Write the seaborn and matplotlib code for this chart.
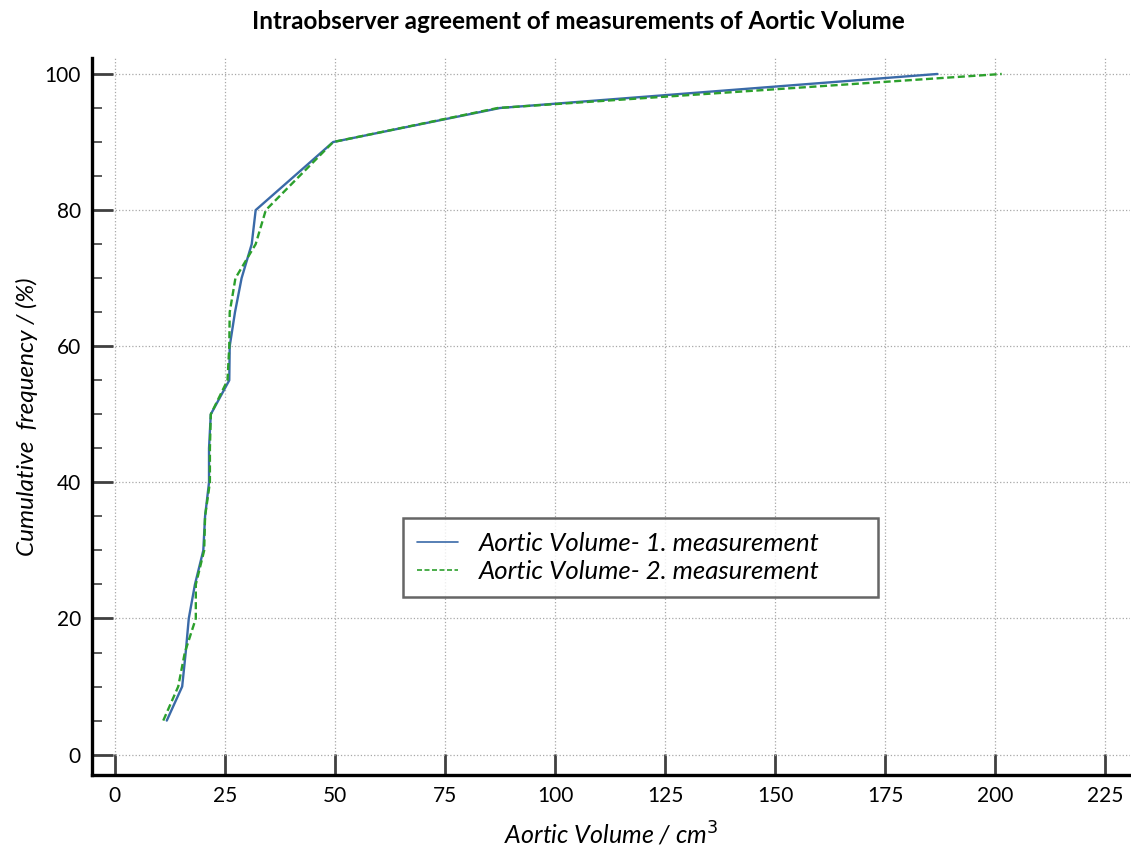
import matplotlib
matplotlib.use("Agg")
import matplotlib.pyplot as plt
from matplotlib.ticker import MultipleLocator
import numpy as np
import pandas as pd
import seaborn as sns

# Cumulative frequency (%) levels
freq = [5, 10, 15, 20, 25, 30, 35, 40, 45, 50, 55, 60, 65, 70, 75, 80, 90, 95, 100]

# Aortic volume (cm^3) at each cumulative frequency level
vol_m1 = [11.8, 15.3, 16.1, 16.8, 18.2, 20.1, 20.5, 21.4, 21.4, 21.8,
          26.0, 26.1, 27.3, 28.8, 31.1, 32.0, 49.6, 87.5, 186.9]
vol_m2 = [11.0, 14.4, 15.9, 18.4, 18.4, 20.3, 20.5, 21.6, 21.6, 21.8,
          25.6, 26.0, 26.1, 27.4, 32.0, 34.3, 49.6, 87.0, 201.5]

labels = ["Aortic Volume- 1. measurement", "Aortic Volume- 2. measurement"]
colors = ["#3a6aa8", "#2ca02c"]

sns.set_theme(style="white")
plt.rcParams["font.family"] = ["Lato", "DejaVu Sans"]
plt.rcParams["text.color"] = "black"
plt.rcParams["axes.labelcolor"] = "black"

fig = plt.figure(figsize=(11.31, 8.5), dpi=100)
ax = fig.add_axes([0.0813, 0.0882, 0.918, 0.844])

sns.lineplot(x=vol_m1, y=freq, sort=False, estimator=None, ax=ax,
             color=colors[0], lw=1.7, label=labels[0])
sns.lineplot(x=vol_m2, y=freq, sort=False, estimator=None, ax=ax,
             color=colors[1], lw=1.7, linestyle=(0, (3, 1.5)), label=labels[1])

ax.set_xlim(-5.2, 230.7)
ax.set_ylim(-3.0, 102.4)
ax.xaxis.set_major_locator(MultipleLocator(25))
ax.yaxis.set_major_locator(MultipleLocator(20))
ax.yaxis.set_minor_locator(MultipleLocator(5))

ax.grid(True, which="major", color="#a8a8a8", linestyle=":", linewidth=0.9)
ax.set_axisbelow(True)

for side in ("top", "right"):
    ax.spines[side].set_visible(False)
for side in ("left", "bottom"):
    ax.spines[side].set_color("black")
    ax.spines[side].set_linewidth(2.4)

ax.tick_params(axis="both", which="major", direction="in", length=15,
               width=2.0, color="#404040", labelcolor="black",
               labelsize=15, pad=8, left=True, bottom=True)
ax.tick_params(axis="y", which="minor", direction="in", length=7,
               width=1.2, color="#404040", left=True)

ax.set_xlabel("Aortic Volume / cm$^{3}$", fontsize=18, style="italic", labelpad=10)
ax.set_ylabel("Cumulative  frequency / (%)", fontsize=17.5, style="italic", labelpad=5)
fig.suptitle("Intraobserver agreement of measurements of Aortic Volume",
             fontsize=17.5, fontweight="bold", x=0.511, y=0.988)

leg = ax.legend(loc="upper left", bbox_to_anchor=(0.2996, 0.0, 0.4576, 0.3584),
                mode="expand", fontsize=18.5, frameon=True, fancybox=False,
                handlelength=1.6, handletextpad=0.8, borderpad=0.55,
                labelspacing=0.2, borderaxespad=0)
for t in leg.get_texts():
    t.set_fontstyle("italic")
leg.get_frame().set_edgecolor("#404040")
leg.get_frame().set_linewidth(1.8)
for h in leg.get_lines():
    h.set_linewidth(1.2)

fig.savefig("out.png", dpi=100)
